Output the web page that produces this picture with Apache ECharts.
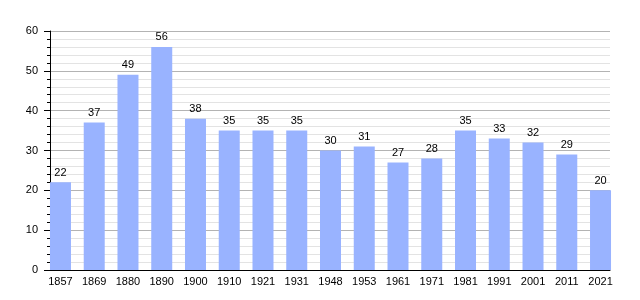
<!DOCTYPE html>
<html><head><meta charset="utf-8">
<script src="https://cdn.jsdelivr.net/npm/echarts@6/dist/echarts.min.js"></script>
<style>html,body{margin:0;padding:0;background:#fff}#c{width:640px;height:300px}</style>
</head><body><div id="c"></div>
<script>
const years = ['1857','1869','1880','1890','1900','1910','1921','1931','1948','1953','1961','1971','1981','1991','2001','2011','2021'];
const population = [22,37,49,56,38,35,35,35,30,31,27,28,35,33,32,29,20];
const yTicks = {min: 0, max: 60, step: 10};

const chart = echarts.init(document.getElementById('c'), null, {renderer: 'canvas'});
const font = 'Liberation Sans, Arial, sans-serif';
chart.setOption({
  animation: false,
  grid: [
    {left: 50, right: 30, top: 31, bottom: 30},
    {left: 43.6, right: 22.6, top: 31, bottom: 30}
  ],
  xAxis: [
    {gridIndex: 0, type: 'value', min: 0, max: 1,
     axisLine: {show: true, lineStyle: {color: '#000', width: 1}},
     axisTick: {show: false}, axisLabel: {show: false}, splitLine: {show: false}},
    {gridIndex: 1, type: 'category', data: years, boundaryGap: true,
     axisLine: {show: false}, axisTick: {show: false},
     axisLabel: {color: '#000', fontSize: 11, fontFamily: font, margin: 6, interval: 0}}
  ],
  yAxis: [
    {gridIndex: 0, type: 'value', min: yTicks.min, max: yTicks.max, interval: yTicks.step,
     axisLine: {show: true, lineStyle: {color: '#000', width: 1}},
     axisTick: {show: true, inside: false, length: 6, lineStyle: {color: '#000'}},
     minorTick: {show: true, splitNumber: 5, length: 3, lineStyle: {color: '#000'}},
     axisLabel: {color: '#000', fontSize: 11, fontFamily: font, margin: 12},
     splitLine: {show: true, lineStyle: {color: '#b3b3b3', width: 1}},
     minorSplitLine: {show: true, lineStyle: {color: '#e3e3e3', width: 1}}},
    {gridIndex: 1, type: 'value', min: yTicks.min, max: yTicks.max, show: false,
     splitLine: {show: false}}
  ],
  series: [{
    type: 'bar', xAxisIndex: 1, yAxisIndex: 1, data: population,
    barWidth: 21,
    itemStyle: {color: '#99b3ff'},
    label: {show: true, position: 'top', color: '#000', fontSize: 11, fontFamily: font, distance: 4}
  }]
});
</script></body></html>
